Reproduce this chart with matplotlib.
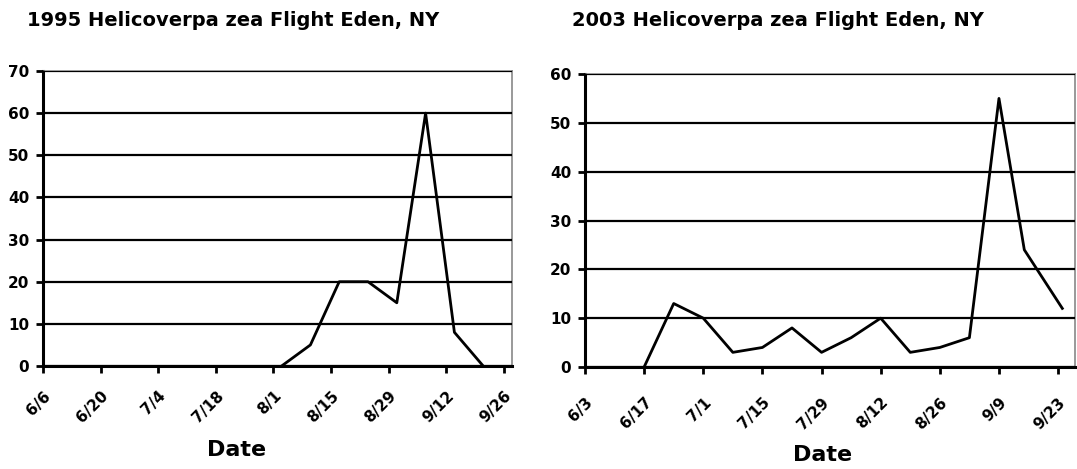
import pandas as pd
import matplotlib
matplotlib.use("Agg")
import matplotlib.pyplot as plt
from matplotlib.transforms import ScaledTranslation

# data
dates_1995 = ['8/3', '8/10', '8/17', '8/24', '8/31', '9/7', '9/14', '9/21']
counts_1995 = [0, 5, 20, 20, 15, 60, 8, 0]
ticks_1995 = ['6/6', '6/20', '7/4', '7/18', '8/1', '8/15', '8/29', '9/12', '9/26']

dates_2003 = ['6/17', '6/24', '7/1', '7/8', '7/15', '7/22', '7/29', '8/5',
              '8/12', '8/19', '8/26', '9/2', '9/9', '9/15', '9/24']
counts_2003 = [0, 13, 10, 3, 4, 8, 3, 6, 10, 3, 4, 6, 55, 24, 12]
ticks_2003 = ['6/3', '6/17', '7/1', '7/15', '7/29', '8/12', '8/26', '9/9', '9/23']


def to_dates(year, labels):
    return pd.to_datetime([f"{year}/{s}" for s in labels], format="%Y/%m/%d")


plt.rcParams['font.family'] = 'DejaVu Sans'
fig = plt.figure(figsize=(10.77, 4.69), dpi=100)

panels = [
    (1995, dates_1995, counts_1995, ticks_1995, '9/28', 70,
     [43 / 1077, 1 - 366 / 469, 469 / 1077, 295 / 469], 27, 237, 450, 11),
    (2003, dates_2003, counts_2003, ticks_2003, '9/27', 60,
     [585 / 1077, 1 - 367 / 469, 490 / 1077, 293 / 469], 572, 823, 455, 15),
]

for year, d, c, t, xend, ymax, rect, title_x, date_x, date_y, xpad in panels:
    ax = fig.add_axes(rect)
    x = to_dates(year, d)
    tick_pos = to_dates(year, t)
    ax.plot(x, c, color='black', lw=2)
    ax.set_xlim(tick_pos[0], to_dates(year, [xend])[0])
    ax.set_ylim(0, ymax)
    ax.set_yticks(range(0, ymax + 1, 10))
    ax.set_xticks(tick_pos)
    ax.set_xticklabels(t, rotation=45, ha='right', rotation_mode='anchor')
    shift = ScaledTranslation(-5 / 100, 0, fig.dpi_scale_trans)
    for lab in ax.get_xticklabels():
        lab.set_transform(lab.get_transform() + shift)
    for lab in ax.get_xticklabels() + ax.get_yticklabels():
        lab.set_fontweight('bold')
        lab.set_fontsize(11)
    ax.grid(axis='y', color='black', lw=1.6)
    ax.set_axisbelow(False)
    ax.tick_params(axis='both', length=5, width=2, color='black')
    ax.tick_params(axis='x', pad=xpad)
    ax.tick_params(axis='y', pad=5)
    ax.spines['left'].set_linewidth(2.2)
    ax.spines['bottom'].set_linewidth(2.2)
    for s in ['top', 'right']:
        ax.spines[s].set_color('#888888')
        ax.spines[s].set_linewidth(1.2)
    fig.text(title_x / 1077, 1 - 20 / 469, f"{year} Helicoverpa zea Flight Eden, NY",
             fontsize=14, fontweight='bold', va='center', ha='left')
    fig.text(date_x / 1077, 1 - date_y / 469, 'Date', fontsize=16,
             fontweight='bold', va='center', ha='center')

fig.savefig('out.png', dpi=100)
